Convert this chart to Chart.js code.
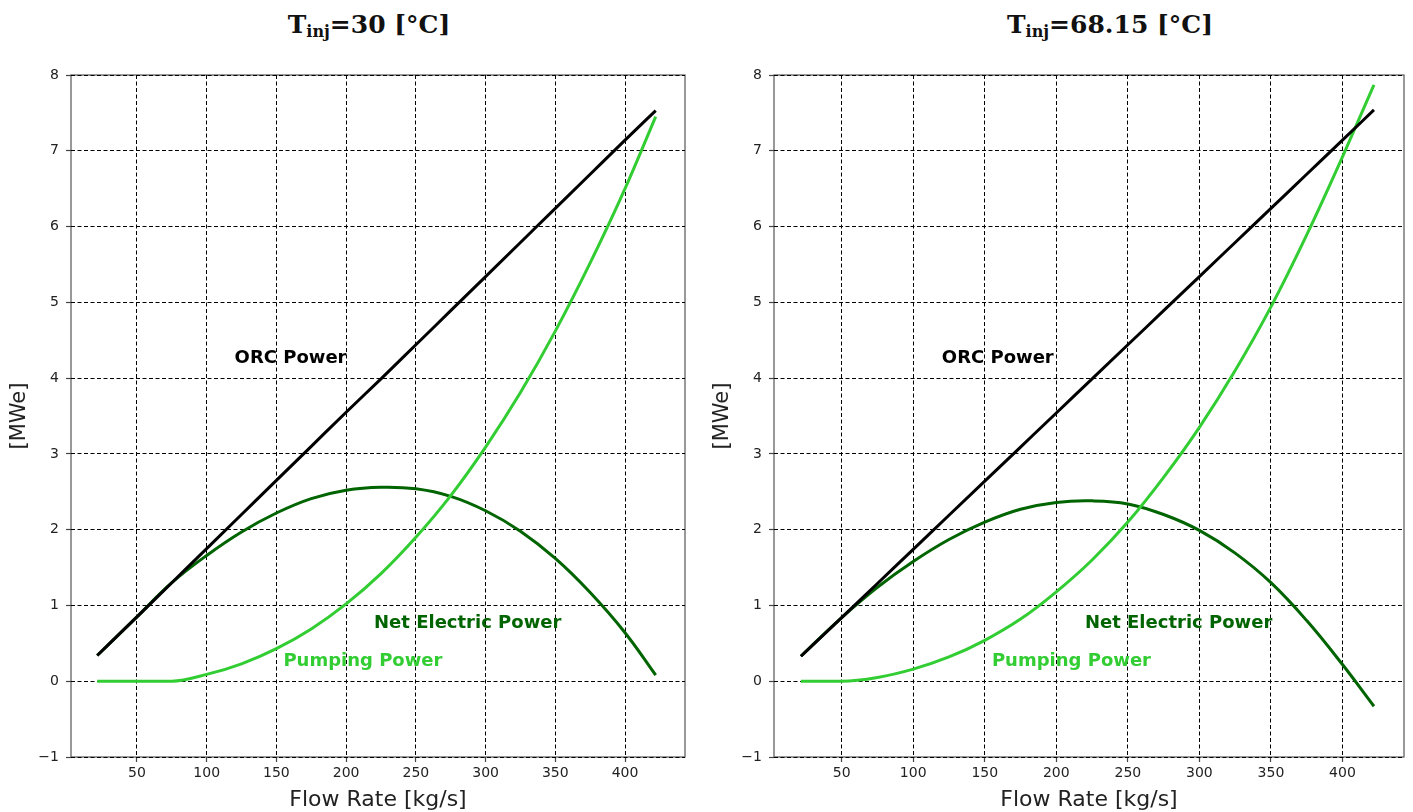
<!DOCTYPE html>
<html>
<head>
<meta charset="utf-8">
<script src="https://cdn.jsdelivr.net/npm/chart.js@4/dist/chart.umd.min.js"></script>
<style>
  html, body { margin: 0; padding: 0; background: #fff; width: 1413px; height: 812px; overflow: hidden; }
  .panel { position: absolute; top: 0; height: 812px; }
  .title {
    position: absolute; top: 12px; transform: translateX(-50%);
    font: bold 25px "DejaVu Serif", serif; line-height: 25px;
    white-space: nowrap; color: #111;
  }
  .title sub { font-size: 16px; vertical-align: baseline; position: relative; top: 4px; }
</style>
</head>
<body>
<div class="title" style="left:369px">T<sub>inj</sub>=30 [°C]</div>
<div class="title" style="left:1110px">T<sub>inj</sub>=68.15 [°C]</div>
<div class="panel" style="left:0;width:703px"><canvas id="chartLow" width="703" height="812"></canvas></div>
<div class="panel" style="left:703px;width:710px"><canvas id="chartHigh" width="710" height="812"></canvas></div>

<script>
// Flow rate samples [kg/s]
const flowRate = [21.5, 50, 75, 100, 125, 150, 175, 200, 225, 250, 275, 300, 325, 350, 375, 400, 422];

// Injection temperature 30 °C [MWe]
const orcPower30  = [0.34, 0.85, 1.30, 1.75, 2.20, 2.65, 3.10, 3.55, 3.99, 4.44, 4.89, 5.34, 5.79, 6.24, 6.69, 7.14, 7.53];
const pumpPower30 = [0.00, 0.00, 0.00, 0.09, 0.23, 0.43, 0.69, 1.02, 1.42, 1.90, 2.45, 3.09, 3.81, 4.62, 5.52, 6.50, 7.45];
const netPower30  = [0.34, 0.85, 1.30, 1.66, 1.97, 2.22, 2.41, 2.52, 2.56, 2.54, 2.44, 2.25, 1.98, 1.62, 1.17, 0.64, 0.08];

// Injection temperature 68.15 °C [MWe]
const orcPower68  = [0.33, 0.84, 1.29, 1.74, 2.19, 2.64, 3.09, 3.54, 3.99, 4.44, 4.89, 5.34, 5.79, 6.24, 6.69, 7.14, 7.54];
const pumpPower68 = [0.00, 0.00, 0.05, 0.16, 0.32, 0.54, 0.82, 1.18, 1.60, 2.10, 2.69, 3.35, 4.10, 4.94, 5.89, 6.92, 7.87];
const netPower68  = [0.33, 0.84, 1.24, 1.58, 1.87, 2.10, 2.27, 2.36, 2.38, 2.34, 2.20, 1.99, 1.69, 1.30, 0.80, 0.22, -0.33];

// Axis ticks
const flowTicks  = [50, 100, 150, 200, 250, 300, 350, 400];
const powerTicks = [-1, 0, 1, 2, 3, 4, 5, 6, 7, 8];

const COLOR_ORC  = '#000000';
const COLOR_NET  = '#006400';
const COLOR_PUMP = '#32cd32';

Chart.defaults.font.family = '"DejaVu Sans", sans-serif';
Chart.defaults.animation = false;

// Solid frame around the plotting area, drawn under the dashed grid
const framePlugin = {
  id: 'frame',
  beforeDraw(chart) {
    const { ctx, chartArea: a } = chart;
    ctx.save();
    ctx.strokeStyle = '#555';
    ctx.lineWidth = 1.2;
    ctx.strokeRect(a.left, a.top, a.right - a.left, a.bottom - a.top);
    ctx.restore();
  }
};

// In-plot curve names placed at data coordinates (left/baseline anchor)
const curveLabelPlugin = {
  id: 'curveLabels',
  afterDatasetsDraw(chart, args, opts) {
    const { ctx, scales: { x, y } } = chart;
    ctx.save();
    ctx.font = 'bold 18px "DejaVu Sans", sans-serif';
    ctx.textAlign = 'left';
    ctx.textBaseline = 'alphabetic';
    for (const item of opts.items) {
      ctx.fillStyle = item.color;
      ctx.fillText(item.text, x.getPixelForValue(item.x), y.getPixelForValue(item.y));
    }
    ctx.restore();
  }
};

function points(values) {
  return flowRate.map((f, i) => ({ x: f, y: values[i] }));
}

// Pumping power keeps its flat start (monotone); the net curve is a plain spline
function lineSet(label, values, color, smoothing) {
  const set = {
    label,
    data: points(values),
    borderColor: color,
    backgroundColor: color,
    borderWidth: 3,
    pointRadius: 0,
    fill: false
  };
  if (smoothing === 'monotone') set.cubicInterpolationMode = 'monotone';
  else set.tension = 0.4;
  return set;
}

function makeChart(canvasId, orc, pump, net, rightPad) {
  const gridStyle = {
    color: '#000',
    lineWidth: 1,
    tickLength: 5,
    tickColor: '#444',
    tickWidth: 1.2,
    tickBorderDash: []
  };
  return new Chart(document.getElementById(canvasId), {
    type: 'line',
    data: {
      datasets: [
        lineSet('ORC Power', orc, COLOR_ORC, 'monotone'),
        lineSet('Pumping Power', pump, COLOR_PUMP, 'monotone'),
        lineSet('Net Electric Power', net, COLOR_NET, 'spline')
      ]
    },
    options: {
      responsive: false,
      animation: false,
      layout: { padding: { left: 0, top: 75, right: rightPad, bottom: 0 } },
      plugins: {
        legend: { display: false },
        tooltip: { enabled: false },
        curveLabels: {
          items: [
            { text: 'ORC Power', x: 120, y: 4.2, color: COLOR_ORC },
            { text: 'Net Electric Power', x: 220, y: 0.7, color: COLOR_NET },
            { text: 'Pumping Power', x: 155, y: 0.2, color: COLOR_PUMP }
          ]
        }
      },
      scales: {
        x: {
          type: 'linear',
          min: 2.7,
          max: 443,
          afterBuildTicks: s => { s.ticks = flowTicks.map(v => ({ value: v })); },
          afterFit: s => { s.height = 55; },
          grid: gridStyle,
          border: { display: false, dash: [4, 2.5] },
          ticks: { font: { size: 14 }, color: '#222', padding: 3, maxRotation: 0, autoSkip: false },
          title: {
            display: true,
            text: 'Flow Rate [kg/s]',
            font: { size: 22 },
            color: '#222',
            padding: { top: 0, bottom: -1 }
          }
        },
        y: {
          type: 'linear',
          min: -1,
          max: 8,
          afterBuildTicks: s => { s.ticks = powerTicks.map(v => ({ value: v })); },
          afterFit: s => { s.width = 71; },
          grid: gridStyle,
          border: { display: false, dash: [4, 2.5] },
          ticks: {
            font: { size: 14 },
            color: '#222',
            padding: 7,
            autoSkip: false,
            callback: v => String(v).replace('-', '\u2212')
          },
          title: {
            display: true,
            text: '[MWe]',
            font: { size: 21 },
            color: '#222',
            padding: { top: 7, bottom: 0 }
          }
        }
      }
    },
    plugins: [framePlugin, curveLabelPlugin]
  });
}

makeChart('chartLow', orcPower30, pumpPower30, netPower30, 18);
makeChart('chartHigh', orcPower68, pumpPower68, netPower68, 9);
</script>
</body>
</html>
